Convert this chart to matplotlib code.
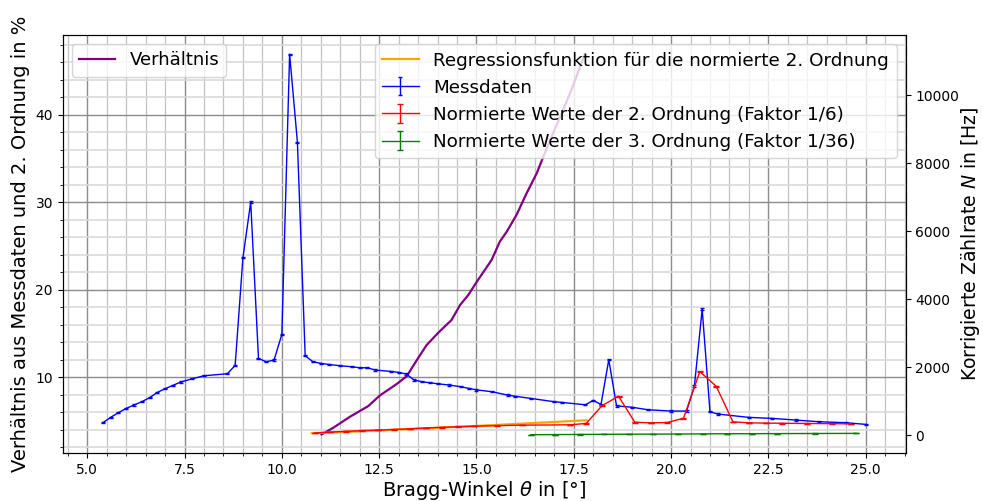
import matplotlib
matplotlib.use("Agg")
import matplotlib.pyplot as plt

# Messdaten (1. Ordnung)
winkel = [5.4, 5.6, 5.8, 6.0, 6.2, 6.4, 6.6, 6.8, 7.0, 7.2, 7.4, 7.7, 8.0,
          8.6, 8.8, 9.0, 9.2, 9.4, 9.6, 9.8, 10.0, 10.2, 10.4, 10.6, 10.8,
          11.0, 11.2, 11.5, 11.8, 12.0, 12.2, 12.4, 12.8, 13.0, 13.2, 13.4,
          13.6, 13.8, 14.0, 14.3, 14.6, 14.8, 15.0, 15.4, 15.8, 16.0, 16.4,
          17.0, 17.2, 17.8, 18.0, 18.2, 18.4, 18.6, 19.0, 19.4, 20.0, 20.4,
          20.6, 20.8, 21.0, 21.2, 22.0, 22.6, 23.2, 23.8, 24.5, 25.0]
rate = [362, 520, 657, 785, 882, 980, 1098, 1255, 1363, 1461, 1559, 1657, 1745,
        1804, 2049, 5216, 6853, 2255, 2157, 2206, 2961, 11206, 8618, 2333, 2157,
        2108, 2079, 2039, 2010, 1980, 1980, 1912, 1873, 1844, 1794, 1618,
        1569, 1539, 1510, 1471, 1422, 1373, 1330, 1275, 1176, 1140, 1078,
        980, 960, 890, 1020, 902, 2215, 858, 818, 745, 706, 706,
        1441, 3706, 686, 618, 520, 490, 441, 392, 363, 314]
rate_err = 20

# normierte 2. Ordnung (Faktor 1/6)
winkel2 = [10.85, 11.25, 11.66, 12.07, 12.47, 12.88, 13.29, 13.70, 14.11, 14.52,
           14.93, 15.54, 16.16, 17.40, 17.82, 18.23, 18.65, 19.07, 19.48, 19.90,
           20.32, 20.74, 21.16, 21.59, 22.01, 22.44, 22.86, 23.50, 24.14, 24.62]
rate2 = [60, 87, 110, 131, 147, 163, 183, 209, 227, 244,
         260, 276, 291, 301, 342, 869, 1142, 376, 360, 368,
         494, 1868, 1436, 389, 360, 351, 347, 340, 335, 330]
rate2_err = 8

# normierte 3. Ordnung (Faktor 1/36)
winkel3 = [16.40, 17.02, 17.65, 18.27, 18.91, 19.54, 20.17, 20.81, 21.45,
           22.09, 22.73, 23.70, 24.76]
rate3 = [10, 14, 18, 22, 25, 27, 31, 35, 38, 41, 43, 46, 49]
rate3_err = 2

# Regressionsfunktion
winkel_reg = [10.77, 11.66, 12.47, 13.29, 14.11, 14.93, 15.54, 16.16, 17.40, 17.83]
rate_reg = [55, 95, 135, 178, 220, 265, 300, 336, 410, 436]

# Verhältnis in %
winkel_v = [11.02, 11.32, 11.75, 12.22, 12.52, 12.95, 13.21, 13.42, 13.55, 13.72,
            14.02, 14.36, 14.58, 14.79, 15.01, 15.39, 15.60, 15.78, 16.03, 16.29,
            16.55, 16.72, 16.97, 17.23, 17.44, 17.70, 17.78]
verhaeltnis = [3.44, 4.2, 5.46, 6.68, 7.9, 9.2, 10.1, 11.6, 12.5, 13.66,
               15.07, 16.52, 18.24, 19.38, 20.9, 23.39, 25.48, 26.63, 28.54, 31.02,
               33.31, 35.21, 37.88, 40.55, 42.84, 45.89, 46.9]

fig = plt.figure(figsize=(9.83, 5.01), dpi=100)
ax = fig.add_subplot(111)
fig.subplots_adjust(left=0.0638, right=0.9214, top=0.930, bottom=0.095)

ax.plot(winkel_v, verhaeltnis, color='purple', lw=1.6, label='Verhältnis')
ax.set_xlim(4.37, 26.03)
ax.set_ylim(1.27, 49.1)
ax.minorticks_on()
ax.grid(which='major', color='#8c8c8c', lw=1.0)
ax.grid(which='minor', axis='x', color='#c2c2c2', lw=0.9)
ax.grid(which='minor', axis='y', color='#dadada', lw=1.2)
ax.set_xlabel(r'Bragg-Winkel $\theta$ in [°]', fontsize=14, labelpad=1)
ax.set_ylabel('Verhältnis aus Messdaten und 2. Ordnung in %', fontsize=14)
ax.tick_params(labelsize=10)
ax.legend(loc='upper left', fontsize=13)

ax2 = ax.twinx()
ax2.plot(winkel_reg, rate_reg, color='orange', lw=1.6,
         label='Regressionsfunktion für die normierte 2. Ordnung')
ax2.errorbar(winkel, rate, yerr=rate_err, color='blue', lw=1, capsize=1.5,
             label='Messdaten')
ax2.errorbar(winkel2, rate2, yerr=rate2_err, color='red', lw=1, capsize=2.5,
             label='Normierte Werte der 2. Ordnung (Faktor 1/6)')
ax2.errorbar(winkel3, rate3, yerr=rate3_err, color='green', lw=1, capsize=2.5,
             label='Normierte Werte der 3. Ordnung (Faktor 1/36)')
ax2.set_ylim(-540, 11770)
ax2.set_ylabel(r'Korrigierte Zählrate $N$ in [Hz]', fontsize=13.6, labelpad=0)
ax2.tick_params(labelsize=10)
ax2.legend(loc='upper right', fontsize=13.2)

fig.savefig('out.png', dpi=100)
